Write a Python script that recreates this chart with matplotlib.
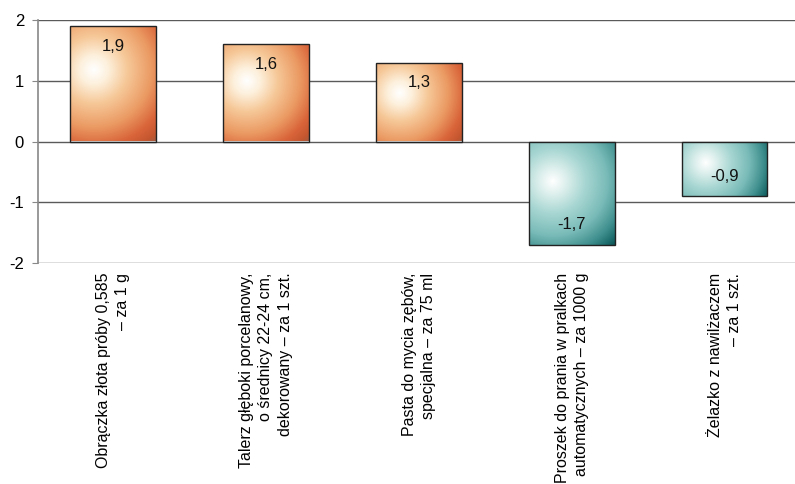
import numpy as np
import matplotlib
matplotlib.use("Agg")
import matplotlib.pyplot as plt
from matplotlib.colors import LinearSegmentedColormap

plt.rcParams['font.family'] = ['Liberation Sans', 'DejaVu Sans']
plt.rcParams['axes.unicode_minus'] = False

# data
labels = [
    "Obrączka złota próby 0,585\n– za 1 g",
    "Talerz głęboki porcelanowy,\no średnicy 22-24 cm,\ndekorowany – za 1 szt.",
    "Pasta do mycia zębów,\nspecjalna – za 75 ml",
    "Proszek do prania w pralkach\nautomatycznych – za 1000 g",
    "Żelazko z nawilżaczem\n– za 1 szt.",
]
values = [1.9, 1.6, 1.3, -1.7, -0.9]
yticks = [-2, -1, 0, 1, 2]

orange = LinearSegmentedColormap.from_list("orange", [
    (0.0, '#ffffff'), (0.15, '#fdf0dc'), (0.35, '#f6c898'),
    (0.6, '#eb9a63'), (0.8, '#d9643a'), (0.92, '#c4562f'), (1.0, '#9a5c45')])
teal = LinearSegmentedColormap.from_list("teal", [
    (0.0, '#ffffff'), (0.15, '#dcefec'), (0.35, '#a9d7d3'),
    (0.6, '#79bbb8'), (0.8, '#3f8f8e'), (0.92, '#1b6a6b'), (1.0, '#0b4d4e')])

fig = plt.figure(figsize=(7.95, 4.84), dpi=100)
ax = fig.add_axes([38 / 795, 1 - 263 / 484, 757 / 795, 243 / 484])
ax.set_xlim(-0.49, 4.46)
ax.set_ylim(-2, 2)

x = np.arange(len(values))
bars = ax.bar(x, values, width=0.56, facecolor='none', edgecolor='#222222',
              linewidth=1, zorder=3)

# radial gradient fill for each bar
for b, v in zip(bars, values):
    x0, y0 = b.get_x(), b.get_y()
    w, h = b.get_width(), b.get_height()
    p0 = ax.transData.transform((x0, min(y0, y0 + h)))
    p1 = ax.transData.transform((x0 + w, max(y0, y0 + h)))
    wpx, hpx = abs(p1[0] - p0[0]), abs(p1[1] - p0[1])
    nx, ny = int(wpx), max(int(hpx), 2)
    xx, yy = np.meshgrid(np.arange(nx), np.arange(ny))
    cx, cy = 0.27 * wpx, 0.38 * hpx
    d = np.hypot(xx - cx, yy - cy)
    d = d / np.hypot(wpx - cx, hpx - cy)
    cmap = orange if v > 0 else teal
    top, bot = max(y0, y0 + h), min(y0, y0 + h)
    im = ax.imshow(d, cmap=cmap, vmin=0, vmax=1, origin='upper',
                   extent=(x0, x0 + w, bot, top), aspect='auto',
                   interpolation='bilinear', zorder=2)
    im.set_clip_path(b)

ax.set_xlim(-0.49, 4.46)
ax.set_ylim(-2, 2)

for xi, v in zip(x, values):
    off = -20 if v > 0 else 20
    ax.annotate(f"{v:.1f}".replace('.', ','), (xi, v), xytext=(0, off * 0.72),
                textcoords='offset points', ha='center', va='center',
                fontsize=12, color='#111111', zorder=4)

ax.set_yticks(yticks)
ax.set_yticklabels([str(t) for t in yticks])
ax.yaxis.grid(True, color='#5a5a5a', linewidth=1)
ax.set_axisbelow(True)
for s in ['top', 'right', 'bottom']:
    ax.spines[s].set_visible(False)
ax.spines['left'].set_color('#888888')
ax.spines['left'].set_linewidth(1.2)
ax.tick_params(axis='y', length=4, color='#888888', labelsize=12, pad=6)

ax.set_xticks(x)
ax.set_xticklabels(labels, rotation=90, va='top', ha='center',
                   multialignment='right', fontsize=11.5, linespacing=1.35)
ax.tick_params(axis='x', length=0, pad=7)

fig.savefig("out.png", dpi=100)
